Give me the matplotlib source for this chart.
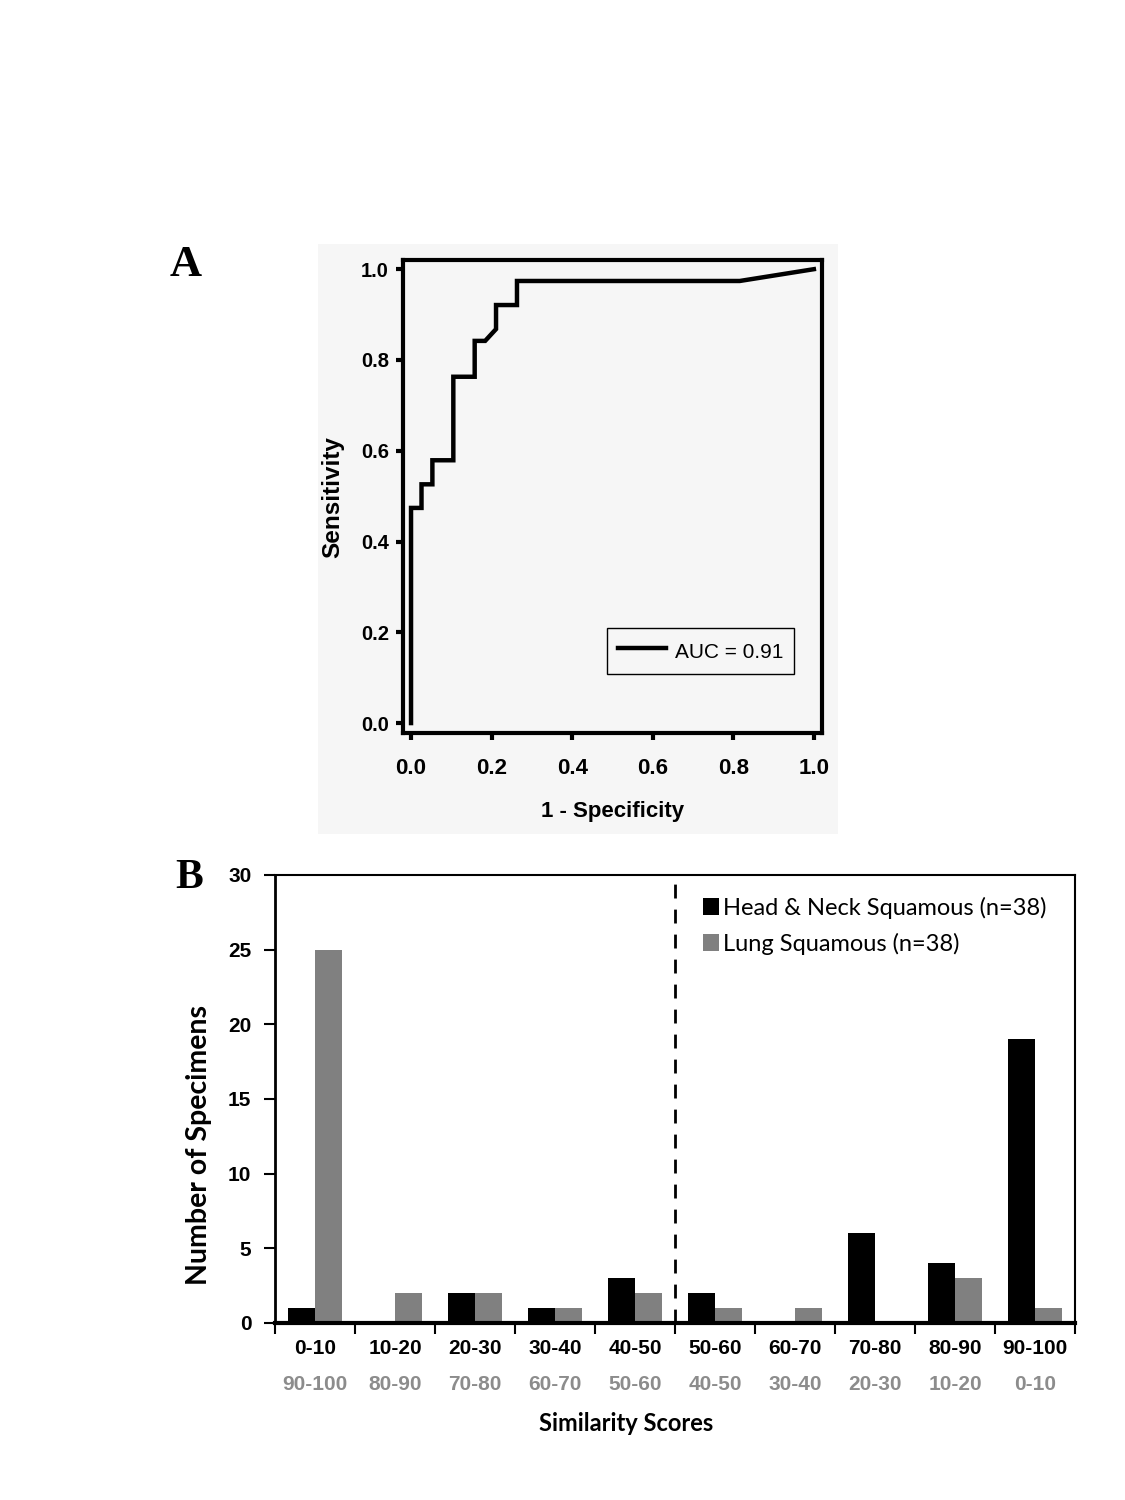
import numpy as np
import matplotlib.pyplot as plt
from matplotlib.patches import Rectangle

# ---------------------------
# Datos panel A (curva ROC)
# ---------------------------
fpr = [0.0, 0.0, 0.026, 0.026, 0.053, 0.053, 0.105, 0.105, 0.158, 0.158,
       0.184, 0.211, 0.211, 0.263, 0.263, 0.816, 1.0]
tpr = [0.0, 0.474, 0.474, 0.526, 0.526, 0.579, 0.579, 0.763, 0.763, 0.842,
       0.842, 0.868, 0.921, 0.921, 0.974, 0.974, 1.0]
auc_label = "AUC = 0.91"

# ---------------------------
# Datos panel B (histograma)
# ---------------------------
rangos = ["0-10", "10-20", "20-30", "30-40", "40-50",
          "50-60", "60-70", "70-80", "80-90", "90-100"]
rangos_inv = ["90-100", "80-90", "70-80", "60-70", "50-60",
              "40-50", "30-40", "20-30", "10-20", "0-10"]
head_neck = [1, 0, 2, 1, 3, 2, 0, 6, 4, 19]
lung = [25, 2, 2, 1, 2, 1, 1, 0, 3, 1]
umbral = 4.5

arial = "Liberation Sans"
calibri = ["Lato", "DejaVu Sans"]

fig = plt.figure(figsize=(11.25, 15), dpi=100)

# fondo gris del panel A
fig.patches.append(Rectangle((0.2827, 0.444), 0.4622, 0.3933,
                             transform=fig.transFigure, facecolor="#f6f6f6",
                             edgecolor="none", zorder=-5))

# ---------------------------
# Panel A
# ---------------------------
ax1 = fig.add_axes([0.3582, 0.5113, 0.3724, 0.3153])
ax1.set_facecolor("#f6f6f6")
ax1.plot(fpr, tpr, color="black", lw=3.2, label=auc_label,
         solid_joinstyle="miter")
ax1.set_xlim(-0.02, 1.02)
ax1.set_ylim(-0.022, 1.02)
ax1.set_xticks(np.arange(0, 1.01, 0.2))
ax1.set_yticks(np.arange(0, 1.01, 0.2))
ax1.set_xticklabels([f"{v:.1f}" for v in np.arange(0, 1.01, 0.2)],
                    fontfamily=arial, fontweight="bold", fontsize=16)
ax1.set_yticklabels([f"{v:.1f}" for v in np.arange(0, 1.01, 0.2)],
                    fontfamily=arial, fontweight="bold", fontsize=14.5)
ax1.tick_params(direction="out", length=5, width=3)
ax1.tick_params(axis="x", pad=13)
ax1.tick_params(axis="y", pad=5)
for s in ax1.spines.values():
    s.set_linewidth(3)
ax1.set_xlabel("1 - Specificity", fontfamily=arial, fontweight="bold",
               fontsize=16, labelpad=16)
ax1.set_ylabel("Sensitivity", fontfamily=arial, fontweight="bold",
               fontsize=17.5, labelpad=12)
leg = ax1.legend(loc="lower right", bbox_to_anchor=(0.933, 0.125),
                 prop={"family": arial, "size": 15}, fancybox=False,
                 handlelength=2.3, handleheight=1.5, handletextpad=0.45,
                 borderpad=0.5, borderaxespad=0, framealpha=1)
leg.get_frame().set_edgecolor("black")
leg.get_frame().set_linewidth(1)
leg.get_frame().set_facecolor("#f6f6f6")

fig.text(0.165, 0.823, "A", fontfamily="Liberation Serif", fontweight="bold",
         fontsize=32, va="center", ha="center")

# ---------------------------
# Panel B
# ---------------------------
ax2 = fig.add_axes([0.2444, 0.118, 0.7111, 0.2987])
x = np.arange(len(rangos))
w = 0.34
ax2.bar(x - w / 2, head_neck, width=w, color="black",
        label="Head & Neck Squamous (n=38)")
ax2.bar(x + w / 2, lung, width=w, color="#808080",
        label="Lung Squamous (n=38)")
ax2.axvline(umbral, color="black", lw=2, ls=(0, (5, 4)))
ax2.set_xlim(-0.5, len(rangos) - 0.5)
ax2.set_ylim(0, 30)
ax2.set_yticks(range(0, 31, 5))
ax2.set_yticklabels([str(v) for v in range(0, 31, 5)], fontfamily=arial,
                    fontweight="bold", fontsize=15)
ax2.set_xticks(np.arange(-0.5, len(rangos), 1))
ax2.set_xticklabels([])
ax2.tick_params(direction="out", length=8, width=1.5)
ax2.tick_params(axis="y", pad=9)
ax2.spines["bottom"].set_linewidth(3)
ax2.spines["left"].set_linewidth(2)
ax2.spines["top"].set_linewidth(1.5)
ax2.spines["right"].set_linewidth(1.5)

trans = ax2.get_xaxis_transform()
for i in x:
    ax2.text(i, -0.056, rangos[i], transform=trans, ha="center", va="center",
             fontfamily=arial, fontweight="bold", fontsize=15, color="black")
    ax2.text(i, -0.138, rangos_inv[i], transform=trans, ha="center",
             va="center", fontfamily=arial, fontweight="bold", fontsize=15,
             color="#8c8c8c")

ax2.text(0.439, -0.224, "Similarity Scores", transform=ax2.transAxes,
         ha="center", va="center", fontfamily=calibri, fontsize=17,
         fontweight="bold")
ax2.set_ylabel("Number of Specimens", fontfamily=calibri, fontsize=20.5,
               fontweight="bold")
ax2.yaxis.set_label_coords(-0.079, 0.397)
ax2.legend(loc="upper left", bbox_to_anchor=(0.535, 0.952), frameon=False,
           prop={"family": calibri, "size": 17}, handlelength=0.7,
           handleheight=0.7, handletextpad=0.15, labelspacing=0.6,
           borderpad=0, borderaxespad=0)

fig.text(0.168, 0.415, "B", fontfamily="Liberation Serif", fontweight="bold",
         fontsize=30, va="center", ha="center")

fig.savefig("out.png", dpi=100)
